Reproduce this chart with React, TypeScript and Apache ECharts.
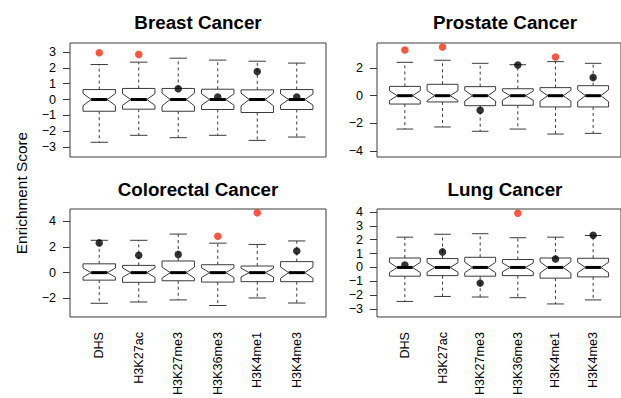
import React, { useEffect, useRef } from "react";
import * as echarts from "echarts";

const categories = ["DHS", "H3K27ac", "H3K27me3", "H3K36me3", "H3K4me1", "H3K4me3"];
const panelTitles = ["Breast Cancer", "Prostate Cancer", "Colorectal Cancer", "Lung Cancer"];
const yAxisTitle = "Enrichment Score";

// Breast
const breastLow = [-2.70, -2.26, -2.41, -2.26, -2.58, -2.37];
const breastQ1 = [-0.74, -0.61, -0.74, -0.63, -0.82, -0.63];
const breastMed = [0, 0, 0, 0, 0, 0];
const breastQ3 = [0.63, 0.70, 0.70, 0.65, 0.61, 0.63];
const breastHigh = [2.21, 2.36, 2.61, 2.49, 2.42, 2.30];
const breastDot = [2.95, 2.85, 0.68, 0.16, 1.77, 0.16];
const breastSig = [true, true, false, false, false, false];
const breastTicks = [-3, -2, -1, 0, 1, 2, 3];
const breastRange = [-3.63, 3.57];

// Prostate
const prostateLow = [-2.40, -2.25, -2.56, -2.40, -2.76, -2.71];
const prostateQ1 = [-0.60, -0.45, -0.72, -0.69, -0.81, -0.81];
const prostateMed = [0, 0, 0, 0, 0, 0];
const prostateQ3 = [0.67, 0.82, 0.65, 0.50, 0.58, 0.72];
const prostateHigh = [2.40, 2.55, 2.33, 2.23, 2.45, 2.33];
const prostateDot = [3.29, 3.50, -1.05, 2.21, 2.78, 1.30];
const prostateSig = [true, true, false, false, true, false];
const prostateTicks = [-4, -2, 0, 2];
const prostateRange = [-4.41, 3.79];

// Colorectal
const colorectalLow = [-2.37, -2.27, -2.11, -2.54, -1.96, -2.35];
const colorectalQ1 = [-0.58, -0.75, -0.63, -0.73, -0.70, -0.70];
const colorectalMed = [0, 0, 0, 0, 0, 0];
const colorectalQ3 = [0.68, 0.56, 0.90, 0.61, 0.51, 0.85];
const colorectalHigh = [2.50, 2.50, 2.98, 2.28, 2.18, 2.45];
const colorectalDot = [2.30, 1.34, 1.41, 2.81, 4.63, 1.67];
const colorectalSig = [false, false, false, true, true, false];
const colorectalTicks = [-2, 0, 2, 4];
const colorectalRange = [-3.43, 4.92];

// Lung
const lungLow = [-2.45, -2.09, -2.13, -2.18, -2.63, -2.34];
const lungQ1 = [-0.63, -0.59, -0.63, -0.59, -0.77, -0.68];
const lungMed = [0, 0, 0, 0, 0, 0];
const lungQ3 = [0.68, 0.64, 0.73, 0.57, 0.68, 0.66];
const lungHigh = [2.18, 2.39, 2.43, 2.14, 2.18, 2.30];
const lungDot = [0.18, 1.12, -1.13, 3.91, 0.61, 2.32];
const lungSig = [false, false, false, true, false, false];
const lungTicks = [-3, -2, -1, 0, 1, 2, 3, 4];
const lungRange = [-3.57, 4.21];

const sampleSize = 32; // used for R's notch rule 1.58*IQR/sqrt(n)
const xPositions = [1, 2, 3, 4, 5, 6];

const FONT = "Liberation Sans, Arial, Helvetica, sans-serif";
const LINE = "#3a3a3a";
const RED = "#ff2a10";

const panels = [
  { low: breastLow, q1: breastQ1, med: breastMed, q3: breastQ3, high: breastHigh, dot: breastDot, sig: breastSig, ticks: breastTicks, range: breastRange },
  { low: prostateLow, q1: prostateQ1, med: prostateMed, q3: prostateQ3, high: prostateHigh, dot: prostateDot, sig: prostateSig, ticks: prostateTicks, range: prostateRange },
  { low: colorectalLow, q1: colorectalQ1, med: colorectalMed, q3: colorectalQ3, high: colorectalHigh, dot: colorectalDot, sig: colorectalSig, ticks: colorectalTicks, range: colorectalRange },
  { low: lungLow, q1: lungQ1, med: lungMed, q3: lungQ3, high: lungHigh, dot: lungDot, sig: lungSig, ticks: lungTicks, range: lungRange },
];

const gridBoxes = [
  { left: 70, top: 43, width: 256, height: 114 },
  { left: 377, top: 43, width: 256, height: 114 },
  { left: 70, top: 209, width: 256, height: 115 },
  { left: 377, top: 209, width: 256, height: 115 },
];

function renderBox(params: any, api: any) {
  const x = api.value(0);
  const lo = api.value(1);
  const q1 = api.value(2);
  const med = api.value(3);
  const q3 = api.value(4);
  const hi = api.value(5);
  const n = (1.58 * (q3 - q1)) / Math.sqrt(sampleSize);
  const w = 0.41;
  const nf = 0.5;
  const sw = 0.22;
  const p = (dx: number, y: number) => api.coord([x + dx, y]);
  const poly = [
    p(-w, q1), p(-w, med - n), p(-w * nf, med), p(-w, med + n), p(-w, q3),
    p(w, q3), p(w, med + n), p(w * nf, med), p(w, med - n), p(w, q1),
  ];
  const seg = (a: number[], b: number[], style: any) => ({
    type: "line",
    shape: { x1: a[0], y1: a[1], x2: b[0], y2: b[1] },
    style,
  });
  const dashed = { stroke: LINE, lineWidth: 1, lineDash: [3, 3] };
  const solid = { stroke: LINE, lineWidth: 1 };
  return {
    type: "group",
    children: [
      seg(p(0, q3), p(0, hi), dashed),
      seg(p(0, q1), p(0, lo), dashed),
      seg(p(-sw, hi), p(sw, hi), solid),
      seg(p(-sw, lo), p(sw, lo), solid),
      { type: "polygon", shape: { points: poly }, style: { fill: "#fff", stroke: LINE, lineWidth: 1 } },
      seg(p(-w * nf, med), p(w * nf, med), { stroke: "#000", lineWidth: 3 }),
    ],
  };
}

const fmtNum = (v: number) => (v < 0 ? "\u2212" + Math.abs(v) : String(v));

export default function App() {
  const ref = useRef<HTMLDivElement>(null);
  useEffect(() => {
    document.body.style.margin = "0";
    if (!ref.current) return;
    const chart = echarts.init(ref.current, undefined, { renderer: "svg" });

    const grid = gridBoxes.map((g) => ({
      ...g,
      show: true,
      borderColor: LINE,
      borderWidth: 1,
      backgroundColor: "transparent",
      containLabel: false,
    }));

    const xAxis = panels.map((_, i) => ({
      type: "value",
      gridIndex: i,
      min: 0.26,
      max: 6.74,
      splitLine: { show: false },
      axisLine: { show: false },
      axisTick: { show: true, length: 7, inside: false, customValues: xPositions, lineStyle: { color: LINE } },
      axisLabel: {
        show: i >= 2,
        customValues: xPositions,
        rotate: 90,
        margin: 15,
        color: "#000",
        fontSize: 12.6,
        fontFamily: FONT,
        formatter: (v: number) => categories[Math.round(v) - 1] ?? "",
      },
    }));

    const yAxis = panels.map((p, i) => ({
      type: "value",
      gridIndex: i,
      min: p.range[0],
      max: p.range[1],
      splitLine: { show: false },
      axisLine: { show: false },
      axisTick: { show: true, length: 7, inside: false, customValues: p.ticks, lineStyle: { color: LINE } },
      axisLabel: {
        show: true,
        customValues: p.ticks,
        margin: 14,
        color: "#000",
        fontSize: 12.6,
        fontFamily: FONT,
        formatter: (v: number) => fmtNum(v),
      },
    }));

    const series: any[] = [];
    panels.forEach((p, i) => {
      series.push({
        type: "custom",
        xAxisIndex: i,
        yAxisIndex: i,
        z: 2,
        silent: true,
        renderItem: renderBox,
        encode: { x: 0, y: [1, 2, 3, 4, 5] },
        data: xPositions.map((x, k) => [x, p.low[k], p.q1[k], p.med[k], p.q3[k], p.high[k]]),
      });
      series.push({
        type: "scatter",
        xAxisIndex: i,
        yAxisIndex: i,
        z: 3,
        silent: true,
        symbol: "circle",
        symbolSize: 7.5,
        data: xPositions.map((x, k) => ({
          value: [x, p.dot[k]],
          itemStyle: { color: p.sig[k] ? RED : "#000" },
        })),
      });
    });

    const titleCenters = [
      [198, 22],
      [505, 22],
      [198, 189],
      [505, 189],
    ];

    const graphic: any[] = panelTitles.map((t, i) => ({
      type: "text",
      x: titleCenters[i][0],
      y: titleCenters[i][1],
      style: {
        text: t,
        fontSize: 18.8,
        fontWeight: "bold",
        fontFamily: FONT,
        fill: "#000",
        textAlign: "center",
        textVerticalAlign: "middle",
      },
    }));
    graphic.push({
      type: "text",
      x: 21,
      y: 193,
      rotation: Math.PI / 2,
      style: {
        text: yAxisTitle,
        fontSize: 15.4,
        fontFamily: FONT,
        fill: "#000",
        textAlign: "center",
        textVerticalAlign: "middle",
      },
    });

    chart.setOption({
      animation: false,
      backgroundColor: "#fff",
      grid,
      xAxis,
      yAxis,
      series,
      graphic,
    });
    return () => chart.dispose();
  }, []);
  return <div ref={ref} style={{ width: 621, height: 398 }} />;
}
